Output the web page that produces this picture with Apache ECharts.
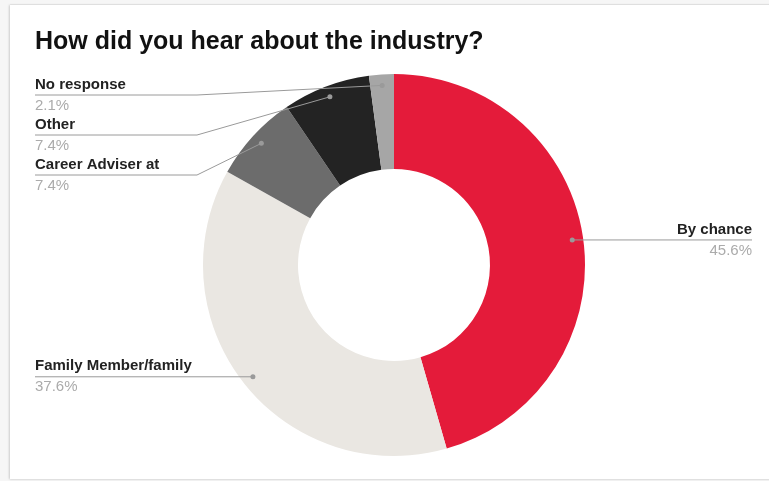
<!DOCTYPE html>
<html>
<head>
<meta charset="utf-8">
<script src="https://cdn.jsdelivr.net/npm/echarts@6/dist/echarts.min.js"></script>
<style>
  html, body { margin: 0; padding: 0; background: #f6f6f6; }
  #card { position: absolute; left: 10px; top: 5px; width: 780px; height: 474px; background: #fff;
          box-shadow: -1px 0 2px rgba(0,0,0,0.15), 0 1px 2px rgba(0,0,0,0.06), 0 -1px 1px rgba(0,0,0,0.04); }
  #chart { position: absolute; left: 0; top: 0; width: 769px; height: 481px; }
</style>
</head>
<body>
<div id="card"></div>
<div id="chart"></div>
<script>
const titleText = 'How did you hear about the industry?';
const categories = ['By chance', 'Family Member/family', 'Career Adviser at', 'Other', 'No response'];
const values = [45.6, 37.6, 7.4, 7.4, 2.1];
const colors = ['#E41B3A', '#EAE7E2', '#6C6C6C', '#232323', '#A6A6A6'];

const W = 769, H = 481;
const CX = 394, CY = 265, R_IN = 96, R_OUT = 191, R_DOT = 180;
const EDGE_L = 35, EDGE_R = 17, KINK = 197, LABEL_GAP = 40, TOP_PAD = 21;

// derive label layout from the data (mid angle of each slice, clockwise from top)
const total = values.reduce((a, b) => a + b, 0);
const info = [];
let acc = 0;
values.forEach((v, i) => {
  const mid = (acc + v / 2) / total * Math.PI * 2;
  acc += v;
  const dx = Math.sin(mid), dy = -Math.cos(mid);
  info.push({ i, left: dx < 0, dotX: CX + R_DOT * dx, dotY: CY + R_DOT * dy, lineY: CY + R_DOT * dy });
});
[true, false].forEach(side => {
  const list = info.filter(o => o.left === side).sort((a, b) => a.dotY - b.dotY);
  let minY = CY - R_OUT + TOP_PAD;
  list.forEach(o => { o.lineY = Math.max(o.dotY, minY); minY = o.lineY + LABEL_GAP; });
});

const baseSeries = {
  type: 'pie',
  center: [CX, CY],
  radius: [R_IN, R_OUT],
  startAngle: 90,
  clockwise: true,
  silent: true,
  emphasis: { disabled: true }
};

const chart = echarts.init(document.getElementById('chart'), null, { renderer: 'canvas' });
chart.setOption({
  backgroundColor: 'transparent',
  animation: false,
  title: {
    text: titleText, left: EDGE_L, top: 30, padding: 0,
    textStyle: { fontFamily: 'Liberation Sans', fontSize: 25, fontWeight: 'bold', color: '#111' }
  },
  series: [
    Object.assign({}, baseSeries, {
      z: 2,
      itemStyle: { borderWidth: 0 },
      data: categories.map((c, i) => ({ name: c, value: values[i], itemStyle: { color: colors[i] } })),
      label: { show: false },
      labelLine: { show: false }
    }),
    Object.assign({}, baseSeries, {
      z: 3,
      itemStyle: { color: 'rgba(0,0,0,0)', borderWidth: 0 },
      data: categories.map((c, i) => ({ name: c, value: values[i] })),
      label: {
        show: true,
        position: 'outer',
        fontFamily: 'Liberation Sans',
        formatter: p => '{n|' + p.name + '}\n{v|' + p.value.toFixed(1) + '%}',
        rich: {
          n: { fontFamily: 'Liberation Sans', fontSize: 15, fontWeight: 'bold', color: '#222', lineHeight: 21 },
          v: { fontFamily: 'Liberation Sans', fontSize: 15, color: '#ABABAB', lineHeight: 21 }
        }
      },
      labelLine: { show: true, length: 10, length2: 10, lineStyle: { color: '#9a9a9a', width: 1 } },
      labelLayout: function (params) {
        const o = info[params.dataIndex];
        const lx = o.left ? EDGE_L : W - EDGE_R;
        const kx = o.left ? Math.min(o.dotX, KINK) : Math.max(o.dotX, W - KINK);
        return {
          x: lx, y: o.lineY, align: o.left ? 'left' : 'right', verticalAlign: 'middle',
          labelLinePoints: [[o.dotX, o.dotY], [kx, o.lineY], [lx, o.lineY]]
        };
      }
    }),
    Object.assign({}, baseSeries, {
      z: 4,
      itemStyle: { color: 'rgba(0,0,0,0)', borderWidth: 0 },
      data: categories.map((c, i) => ({ name: c, value: values[i] })),
      label: {
        show: true, position: 'inside', formatter: ' ',
        width: 5, height: 5, padding: 0, fontSize: 1,
        backgroundColor: '#9a9a9a', borderRadius: 2.5
      },
      labelLine: { show: false },
      labelLayout: function (params) {
        const o = info[params.dataIndex];
        return { x: o.dotX, y: o.dotY, align: 'center', verticalAlign: 'middle' };
      }
    })
  ]
});
</script>
</body>
</html>
